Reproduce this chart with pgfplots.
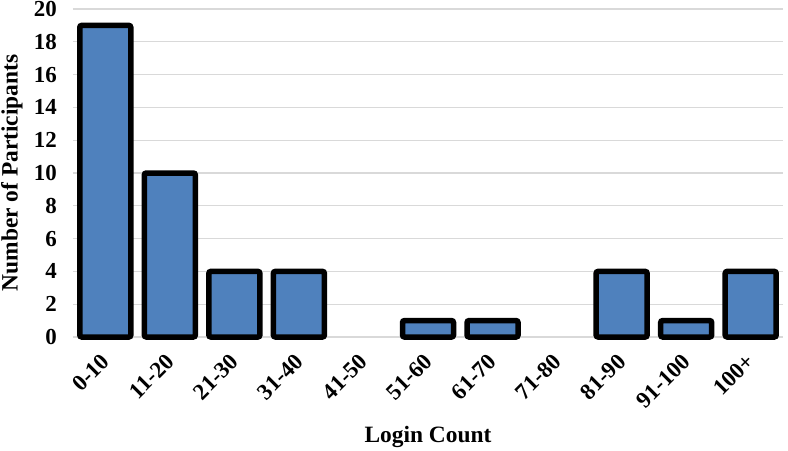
\documentclass[border=0pt]{standalone}
\usepackage{pgfplots}
\pgfplotsset{compat=1.18}
\usepackage{fontspec}
\setmainfont{Liberation Serif}
\definecolor{barblue}{RGB}{79,129,189}
\definecolor{gridgray}{RGB}{217,217,217}
\begin{document}
\begin{tikzpicture}
\begin{axis}[
  at={(0,0)}, anchor=south west,
  scale only axis,
  width=710bp, height=328bp,
  ybar, bar width=51bp,
  xmin=-0.5, xmax=10.5,
  ymin=0, ymax=20,
  ytick={0,2,...,20},
  xtick={0,...,10},
  xticklabels={0-10,11-20,21-30,31-40,41-50,51-60,61-70,71-80,81-90,91-100,100+},
  x tick label style={rotate=45, anchor=north east, inner sep=0pt, yshift=-7bp, xshift=-14.5bp},
  y tick label style={inner sep=0pt, xshift=-16bp},
  tick label style={font=\fontsize{23}{26}\selectfont\bfseries},
  /pgf/number format/assume math mode=true,
  ymajorgrids,
  grid style={gridgray, line width=1.2bp},
  axis line style={draw=none},
  axis x line*=bottom,
  axis y line*=left,
  major tick length=0pt,
  ylabel={Number of Participants},
  xlabel={Login Count},
  label style={font=\fontsize{23.5}{26}\selectfont\bfseries},
  ylabel style={at={(axis description cs:0,0.5)}, anchor=center, yshift=61bp},
  xlabel style={at={(axis description cs:0.5,0)}, anchor=center, yshift=-100bp},
  clip=false,
]
\addplot[fill=barblue, draw=black, line width=5.5bp, rounded corners=2bp, bar shift=0pt]
coordinates {(0,19) (1,10) (2,4) (3,4) (5,1) (6,1) (8,4) (9,1) (10,4)};
\end{axis}
\pgfresetboundingbox
\path (-73bp,-114bp) rectangle (715bp,337bp);
\end{tikzpicture}
\end{document}
